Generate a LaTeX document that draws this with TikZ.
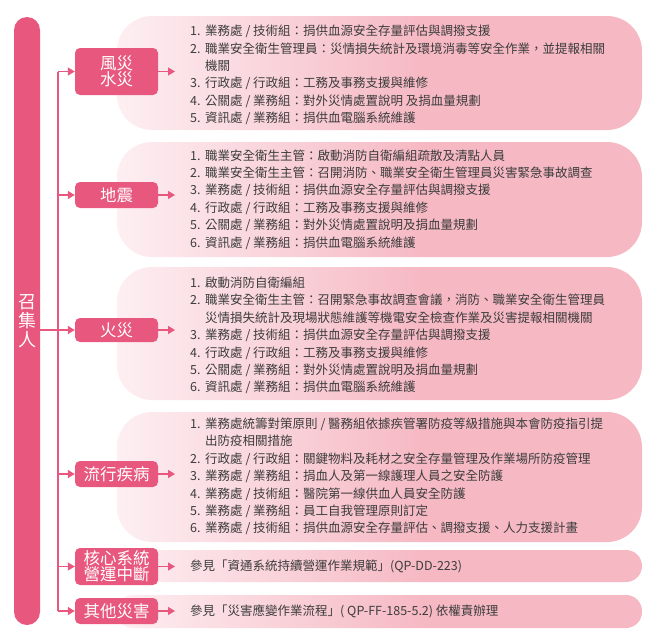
\documentclass[tikz,border=0pt]{standalone}
\usepackage{fontspec}
\setmainfont{Noto Sans CJK TC}
\usetikzlibrary{arrows.meta}

\definecolor{rose}{RGB}{232,87,125}
\definecolor{panelL}{RGB}{253,239,242}
\definecolor{panelR}{RGB}{246,185,196}
\definecolor{ink}{RGB}{60,60,60}
\pgfdeclarehorizontalshading{panelfade}{100bp}{color(0bp)=(panelL); color(25bp)=(panelL); color(54bp)=(panelR); color(100bp)=(panelR)}

\newcommand\itm[1]{\makebox[15pt][l]{#1.}}
\newcommand\cont{\hspace*{15pt}}

\begin{document}
\begin{tikzpicture}[
    x=1pt, y=-1pt,
    bar/.style={fill=rose, rounded corners=13pt, minimum width=26pt, minimum height=608pt, inner sep=0pt, text=white, font=\fontsize{18}{19}\selectfont, align=center},
    cat/.style={fill=rose, rounded corners=5pt, minimum width=83pt, minimum height=26pt, inner sep=0pt, text=white, font=\fontsize{16.5}{16.5}\selectfont, align=center},
    panel/.style={shading=panelfade, rounded corners=35pt},
    duty/.style={anchor=west, inner sep=0pt, text=ink, align=left, font=\fontsize{12.5}{17.4}\selectfont},
    link/.style={draw=rose, line width=1.3pt},
    arr/.style={link, -{Triangle[length=7pt, width=8pt]}}
  ]

    \useasboundingbox (0,0) rectangle (657,641);

    % Background panels (light on the left, pink on the right)
    \path[panel] (117,16) rectangle (642,130);
    \path[panel] (117,142) rectangle (642,257);
    \path[panel] (117,267) rectangle (642,400);
    \path[panel] (117,412) rectangle (642,542);
    \path[panel, rounded corners=16pt] (117,550) rectangle (642,582);
    \path[panel, rounded corners=16pt] (117,595) rectangle (642,628);

    % Left bar
    \node[bar] (bar) at (27,321) {召\\集\\人};

    % Trunk and arrow tips
    \coordinate (trunk) at (58,0);
    \coordinate (tip) at (175,0);

    % Category boxes
    \node[cat, minimum height=47pt] (wind) at (116.5,71.5) {風災\\水災};
    \node[cat] (quake) at (116.5,195) {地震};
    \node[cat, minimum height=24pt] (fire) at (116.5,330) {火災};
    \node[cat] (flu) at (116.5,474) {流行疾病};
    \node[cat, minimum height=37pt, font=\fontsize{16.5}{15}\selectfont] (core) at (116.5,566.5) {核心系統\\營運中斷};
    \node[cat] (other) at (116.5,611) {其他災害};

    % Duties
    \node[duty] (windtxt) at (190,75) {
      \itm{1}業務處 / 技術組：捐供血源安全存量評估與調撥支援\\
      \itm{2}職業安全衛生管理員：災情損失統計及環境消毒等安全作業，並提報相關\\
      \cont 機關\\
      \itm{3}行政處 / 行政組：工務及事務支援與維修\\
      \itm{4}公關處 / 業務組：對外災情處置說明 及捐血量規劃\\
      \itm{5}資訊處 / 業務組：捐供血電腦系統維護
    };
    \node[duty] (quaketxt) at (190,199.5) {
      \itm{1}職業安全衛生主管：啟動消防自衛編組疏散及清點人員\\
      \itm{2}職業安全衛生主管：召開消防、職業安全衛生管理員災害緊急事故調查\\
      \itm{3}業務處 / 技術組：捐供血源安全存量評估與調撥支援\\
      \itm{4}行政處 / 行政組：工務及事務支援與維修\\
      \itm{5}公關處 / 業務組：對外災情處置說明及捐血量規劃\\
      \itm{6}資訊處 / 業務組：捐供血電腦系統維護
    };
    \node[duty] (firetxt) at (190,335.5) {
      \itm{1}啟動消防自衛編組\\
      \itm{2}職業安全衛生主管：召開緊急事故調查會議，消防、職業安全衛生管理員\\
      \cont 災情損失統計及現場狀態維護等機電安全檢查作業及災害提報相關機關\\
      \itm{3}業務處 / 技術組：捐供血源安全存量評估與調撥支援\\
      \itm{4}行政處 / 行政組：工務及事務支援與維修\\
      \itm{5}公關處 / 業務組：對外災情處置說明及捐血量規劃\\
      \itm{6}資訊處 / 業務組：捐供血電腦系統維護
    };
    \node[duty] (flutxt) at (190,476.5) {
      \itm{1}業務處統籌對策原則 / 醫務組依據疾管署防疫等級措施與本會防疫指引提\\
      \cont 出防疫相關措施\\
      \itm{2}行政處 / 行政組：關鍵物料及耗材之安全存量管理及作業場所防疫管理\\
      \itm{3}業務處 / 業務組：捐血人及第一線護理人員之安全防護\\
      \itm{4}業務處 / 技術組：醫院第一線供血人員安全防護\\
      \itm{5}業務處 / 業務組：員工自我管理原則訂定\\
      \itm{6}業務處 / 技術組：捐供血源安全存量評估、調撥支援、人力支援計畫
    };
    \node[duty] (coretxt) at (190,566) {參見「資通系統持續營運作業規範」(QP-DD-223)};
    \node[duty] (othertxt) at (190,611) {參見「災害應變作業流程」( QP-FF-185-5.2) 依權責辦理};

    % Trunk line and branches
    \draw[link] (trunk |- wind) -- (trunk |- other);
    \draw[arr] (trunk |- wind) -- (wind.west);
    \draw[arr] (trunk |- quake) -- (quake.west);
    \draw[arr] (bar.east |- fire) -- (fire.west);
    \draw[arr] (trunk |- flu) -- (flu.west);
    \draw[arr] (trunk |- core) -- (core.west);
    \draw[arr] (trunk |- other) -- (other.west);

    % Arrows into the panels
    \foreach \n in {wind, quake, fire, flu, core, other}
      \draw[arr] (\n.east) -- (\n.east -| tip);

  \end{tikzpicture}
\end{document}
